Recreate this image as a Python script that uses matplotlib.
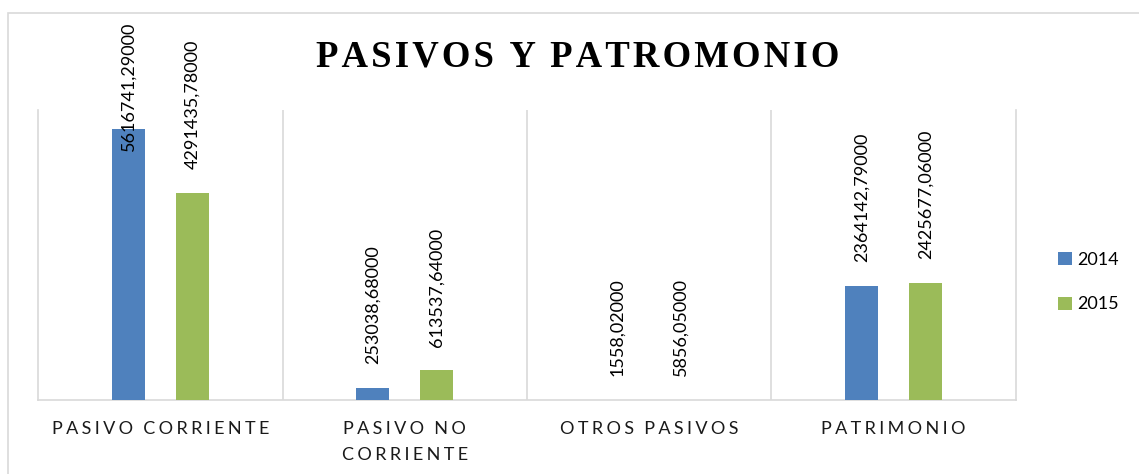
import matplotlib
matplotlib.use("Agg")
import matplotlib.pyplot as plt
from matplotlib.patches import Rectangle
import numpy as np

categories = ["PASIVO CORRIENTE", "PASIVO NO\nCORRIENTE", "OTROS PASIVOS", "PATRIMONIO"]
years = ["2014", "2015"]
values_2014 = [5616741.29, 253038.68, 1558.02, 2364142.79]
values_2015 = [4291435.78, 613537.64, 5856.05, 2425677.06]
colors = ["#4F81BD", "#9BBB59"]
title = "PASIVOS Y PATROMONIO"

plt.rcParams['font.family'] = ['Lato', 'DejaVu Sans']
plt.rcParams['font.serif'] = ['Liberation Serif', 'DejaVu Serif']


def spaced(text, gap, word_gap):
    # imitate the letter spacing of the Excel texts
    lines = []
    for line in text.split("\n"):
        words = [gap.join(w) for w in line.split(" ")]
        lines.append(word_gap.join(words))
    return "\n".join(lines)


def fmt(v):
    return f"{v:.5f}".replace(".", ",")


W, H = 1139, 474
fig = plt.figure(figsize=(W / 100, H / 100), dpi=100)
ax = fig.add_axes([38 / W, 1 - 400 / H, (1016 - 38) / W, (400 - 110) / H])

# chart area border
fig.patches.append(Rectangle((8 / W, -0.1), 1.2, 1.1 - 13 / H, transform=fig.transFigure,
                             fill=False, edgecolor="#D9D9D9", linewidth=1.2))

x = np.arange(len(categories))
bw = 0.135
off = 0.13
series = [values_2014, values_2015]
bars = []
for i, vals in enumerate(series):
    b = ax.bar(x + (i * 2 - 1) * off, vals, width=bw, color=colors[i], label=years[i], zorder=3)
    bars.append(b)

ax.set_xlim(-0.5, len(categories) - 0.5)
ax.set_ylim(0, 6000000)
ax.set_yticks([])
ax.set_xticks(x)
ax.set_xticklabels([spaced(c, "\u2009\u200a", "\u2009\u2009\u2009\u2009\u200a") for c in categories],
                   fontsize=13, linespacing=1.75, color="#1a1a1a")
ax.tick_params(axis="x", length=0, pad=15)
for k in np.arange(0.5, len(categories) - 0.5):
    ax.axvline(k, color="#D9D9D9", linewidth=1.2, zorder=1)
for s in ["left", "right", "bottom"]:
    ax.spines[s].set_color("#D9D9D9")
    ax.spines[s].set_linewidth(1.2)
ax.spines["top"].set_visible(False)

# value labels, kept inside the chart area
fig.canvas.draw()
renderer = fig.canvas.get_renderer()
top_limit = H - 22
for i, vals in enumerate(series):
    for xi, v in zip(x, vals):
        t = ax.annotate(fmt(v), (xi + (i * 2 - 1) * off, v), xytext=(0, 17), textcoords="offset points",
                        rotation=90, ha="center", va="bottom", fontsize=13, color="black",
                        annotation_clip=False)
        bb = t.get_window_extent(renderer)
        if bb.y1 > top_limit:
            t.set_position((0, 17 - (bb.y1 - top_limit) * 72 / 100))

fig.legend(handles=bars, labels=years, loc="center left", bbox_to_anchor=(1042 / W, 1 - 282 / H),
           frameon=False, fontsize=13, handlelength=0.75, handleheight=0.75, handletextpad=0.3,
           labelspacing=1.6)

fig.text(578 / W, 1 - 67 / H, spaced(title, "\u200a", " \u200a\u200a"), ha="center", va="baseline",
         fontsize=26.5, fontweight="bold", family=["Liberation Serif", "DejaVu Serif"])

fig.savefig("out.png", dpi=100)
